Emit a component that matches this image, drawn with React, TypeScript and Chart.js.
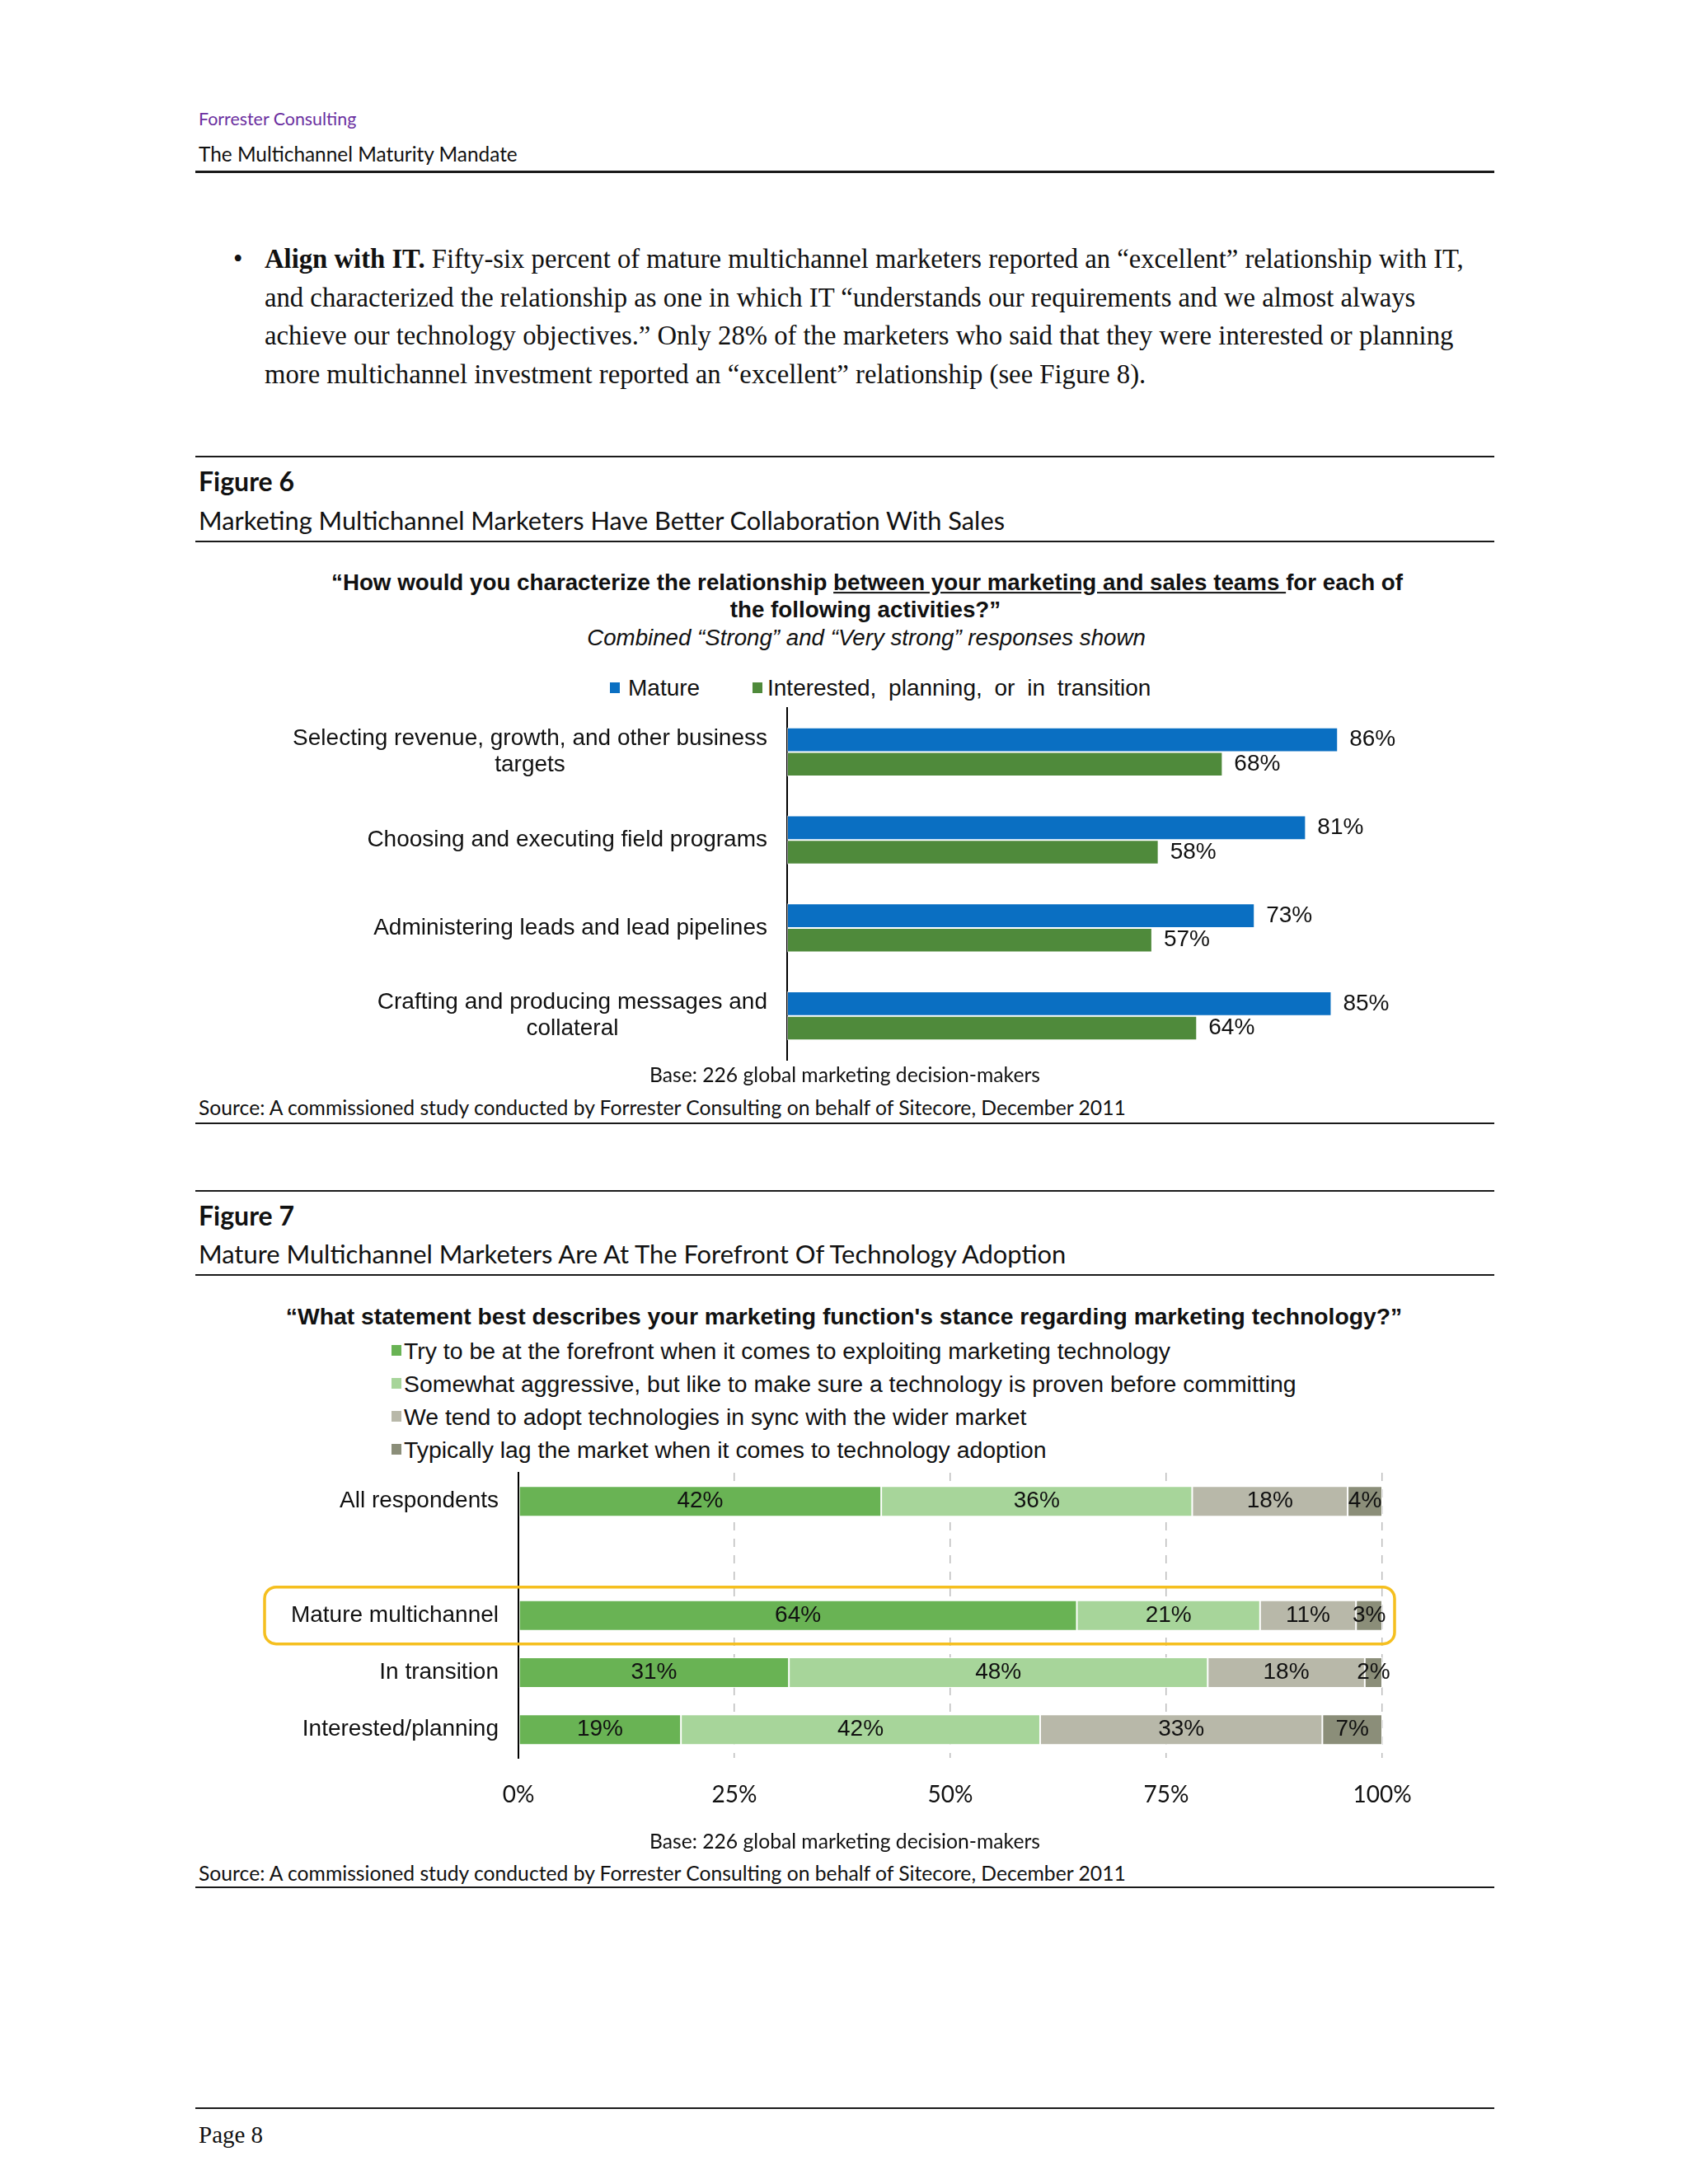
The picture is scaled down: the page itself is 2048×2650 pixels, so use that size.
import React, { useEffect, useRef } from "react";
import { Chart, registerables } from "chart.js";

Chart.register(...registerables);

const ARIAL = '"Liberation Sans", Arial, sans-serif';
const MYRIAD = 'Lato, "Open Sans", sans-serif';
const SERIF = '"Liberation Serif", "Times New Roman", serif';

// ---------- Figure 6 data ----------
const fig6Categories: string[][] = [
  ["Selecting revenue, growth, and other business", "targets"],
  ["Choosing and executing field programs"],
  ["Administering leads and lead pipelines"],
  ["Crafting and producing messages and", "collateral"],
];
const fig6SeriesNames = ["Mature", "Interested, planning, or in transition"];
const fig6Mature = [86, 81, 73, 85];
const fig6Interested = [68, 58, 57, 64];
const fig6Colors = ["#0a6fc2", "#4f8a3b"];

// ---------- Figure 7 data ----------
const fig7Categories: string[] = [
  "All respondents",
  "",
  "Mature multichannel",
  "In transition",
  "Interested/planning",
];
const fig7SeriesNames = [
  "Try to be at the forefront when it comes to exploiting marketing technology",
  "Somewhat aggressive, but like to make sure a technology is proven before committing",
  "We tend to adopt technologies in sync with the wider market",
  "Typically lag the market when it comes to technology adoption",
];
const fig7Forefront: (number | null)[] = [42, null, 64, 31, 19];
const fig7Aggressive: (number | null)[] = [36, null, 21, 48, 42];
const fig7InSync: (number | null)[] = [18, null, 11, 18, 33];
const fig7Lag: (number | null)[] = [4, null, 3, 2, 7];
const fig7Colors = ["#69b354", "#a7d59a", "#b8b8a9", "#8b8e79"];
const fig7TickValues = [0, 25, 50, 75, 100];

// ---------- plugins ----------
const categoryLabelPlugin = {
  id: "catLabels",
  afterDraw(chart: any, _args: any, opts: any) {
    const { ctx } = chart;
    const yScale = chart.scales.y;
    const labels: string[][] = opts.labels || [];
    ctx.save();
    ctx.font = `${opts.size}px ${ARIAL}`;
    ctx.fillStyle = "#111";
    ctx.textBaseline = "middle";
    ctx.textAlign = "center";
    labels.forEach((lines, i) => {
      if (!lines.length) return;
      const yc = yScale.getPixelForValue(i);
      const maxW = Math.max(...lines.map((l) => ctx.measureText(l).width));
      const cx = chart.chartArea.left - opts.gap - maxW / 2;
      const n = lines.length;
      lines.forEach((line, j) => {
        ctx.fillText(line, cx, yc + (j - (n - 1) / 2) * opts.lineHeight);
      });
    });
    ctx.restore();
  },
};

const endLabelPlugin = {
  id: "endLabels",
  afterDatasetsDraw(chart: any, _args: any, opts: any) {
    const { ctx } = chart;
    ctx.save();
    ctx.font = `${opts.size}px ${ARIAL}`;
    ctx.fillStyle = "#111";
    ctx.textBaseline = "middle";
    chart.data.datasets.forEach((ds: any, di: number) => {
      const meta = chart.getDatasetMeta(di);
      meta.data.forEach((el: any, i: number) => {
        const v = ds.data[i];
        if (v == null) return;
        const p = el.getProps(["x", "y", "base"], true);
        if (opts.mode === "end") {
          ctx.textAlign = "left";
          ctx.fillText(`${v}%`, p.x + opts.offset, p.y);
        } else {
          const raw = opts.raw[di][i];
          if (raw == null) return;
          ctx.textAlign = "center";
          ctx.fillText(`${raw}%`, (p.x + p.base) / 2, p.y);
        }
      });
    });
    ctx.restore();
  },
};

const highlightPlugin = {
  id: "highlight",
  afterDatasetsDraw(chart: any, _args: any, opts: any) {
    const { ctx } = chart;
    const y = chart.scales.y.getPixelForValue(opts.index);
    const x1 = opts.left;
    const x2 = chart.chartArea.right + opts.rightExtra;
    ctx.save();
    ctx.strokeStyle = opts.color;
    ctx.lineWidth = opts.lineWidth;
    ctx.beginPath();
    ctx.roundRect(x1, y - opts.half, x2 - x1, opts.half * 2, opts.radius);
    ctx.stroke();
    ctx.restore();
  },
};

// ---------- helpers ----------
type TP = {
  x: number;
  y: number;
  size: number;
  family: string;
  weight?: number | string;
  italic?: boolean;
  color?: string;
  center?: boolean;
  spacing?: number;
  wordSpacing?: number;
  children: React.ReactNode;
};
function T({ x, y, size, family, weight, italic, color, center, spacing, wordSpacing, children }: TP) {
  return (
    <div
      style={{
        position: "absolute",
        left: x,
        top: y,
        transform: center ? "translate(-50%, -50%)" : "translate(0, -50%)",
        fontSize: size,
        fontFamily: family,
        fontWeight: weight ?? 400,
        fontStyle: italic ? "italic" : "normal",
        color: color ?? "#111",
        lineHeight: 1,
        whiteSpace: "pre",
        letterSpacing: spacing ?? 0,
        wordSpacing: wordSpacing ?? 0,
      }}
    >
      {children}
    </div>
  );
}

function Rule({ y, h = 2 }: { y: number; h?: number }) {
  return (
    <div
      style={{
        position: "absolute",
        left: 237,
        top: y - h / 2,
        width: 1576,
        height: h,
        background: "#1a1a1a",
      }}
    />
  );
}

function Swatch({ x, y, color }: { x: number; y: number; color: string }) {
  return (
    <div
      style={{
        position: "absolute",
        left: x,
        top: y - 7,
        width: 12,
        height: 13,
        background: color,
      }}
    />
  );
}

export default function App() {
  const c6 = useRef<HTMLCanvasElement>(null);
  const c7 = useRef<HTMLCanvasElement>(null);

  useEffect(() => {
    document.body.style.margin = "0";

    const ch6 = new Chart(c6.current!, {
      type: "bar",
      data: {
        labels: fig6Categories.map((l) => l.join(" ")),
        datasets: [
          {
            label: fig6SeriesNames[0],
            data: fig6Mature,
            backgroundColor: fig6Colors[0],
            borderColor: "rgba(255,255,255,0.6)",
            borderWidth: 1,
            borderSkipped: false,
            categoryPercentage: 0.553,
            barPercentage: 1,
          },
          {
            label: fig6SeriesNames[1],
            data: fig6Interested,
            backgroundColor: fig6Colors[1],
            borderColor: "rgba(255,255,255,0.6)",
            borderWidth: 1,
            borderSkipped: false,
            categoryPercentage: 0.553,
            barPercentage: 1,
          },
        ],
      },
      options: {
        indexAxis: "y",
        responsive: false,
        animation: false,
        devicePixelRatio: 1,
        layout: { padding: { left: 655, right: 48, top: 9, bottom: 14 } },
        scales: {
          x: { display: false, min: 0, max: 100 },
          y: {
            display: true,
            ticks: { display: false },
            grid: { display: false, drawTicks: false },
            border: { display: true, color: "#000", width: 2 },
          },
        },
        plugins: {
          legend: { display: false },
          tooltip: { enabled: false },
          catLabels: { labels: fig6Categories, size: 28, gap: 24, lineHeight: 32 },
          endLabels: { mode: "end", size: 28, offset: 14 },
        } as any,
      },
      plugins: [categoryLabelPlugin, endLabelPlugin],
    });

    const fig7Series = [fig7Forefront, fig7Aggressive, fig7InSync, fig7Lag];
    const rowTotals = fig7Categories.map((_, i) =>
      fig7Series.reduce((s, arr) => s + (arr[i] ?? 0), 0)
    );
    const ch7 = new Chart(c7.current!, {
      type: "bar",
      data: {
        labels: fig7Categories,
        datasets: fig7Series.map((arr, si) => ({
          label: fig7SeriesNames[si],
          data: arr.map((v, i) => (v == null ? null : (v / rowTotals[i]) * 100)),
          backgroundColor: fig7Colors[si],
          borderColor: "rgba(255,255,255,0.85)",
          borderWidth: 1,
          borderSkipped: false,
          categoryPercentage: 0.534,
          barPercentage: 1,
        })),
      },
      options: {
        indexAxis: "y",
        responsive: false,
        animation: false,
        devicePixelRatio: 1,
        layout: { padding: { left: 329, right: 103, top: 7, bottom: 2 } },
        scales: {
          x: {
            stacked: true,
            min: 0,
            max: 100,
            afterBuildTicks: (axis: any) => {
              axis.ticks = fig7TickValues.map((v) => ({ value: v }));
            },
            ticks: {
              padding: 28,
              color: "#111",
              font: { family: MYRIAD, size: 28 },
              callback: (v: any) => `${v}%`,
            },
            grid: {
              display: true,
              drawTicks: false,
              lineWidth: 1.5,
              color: (ctx: any) => (ctx.tick && ctx.tick.value === 0 ? "rgba(0,0,0,0)" : "#bdbdbd"),
            },
            border: { display: false, dash: [10, 10] },
          },
          y: {
            stacked: true,
            display: true,
            ticks: { display: false },
            grid: { display: false, drawTicks: false },
            border: { display: true, color: "#000", width: 2 },
          },
        },
        plugins: {
          legend: { display: false },
          tooltip: { enabled: false },
          catLabels: { labels: fig7Categories.map((c) => (c ? [c] : [])), size: 28, gap: 24, lineHeight: 32 },
          endLabels: { mode: "center", size: 28, raw: fig7Series },
          highlight: { index: 2, left: 21, rightExtra: 15, half: 34.5, radius: 14, lineWidth: 3.5, color: "#f5bf1f" },
        } as any,
      },
      plugins: [categoryLabelPlugin, endLabelPlugin, highlightPlugin],
    });

    return () => {
      ch6.destroy();
      ch7.destroy();
    };
  }, []);

  const paraSize = 32.7;
  const legend7Y = [1639, 1679, 1719, 1759];
  const myriadSmall = 24.7;

  return (
    <div
      style={{
        position: "absolute",
        left: 0,
        top: 0,
        width: 2048,
        height: 2650,
        background: "#fff",
        overflow: "hidden",
      }}
    >
      {/* Header */}
      <T x={241} y={145} size={21.4} family={MYRIAD} color="#6b2fa0">Forrester Consulting</T>
      <T x={241} y={187} size={24.4} family={MYRIAD}>The Multichannel Maturity Mandate</T>
      <Rule y={208} h={3} />

      {/* Paragraph */}
      <T x={283} y={314} size={paraSize} family={SERIF}>•</T>
      <T x={321} y={314} size={paraSize} family={SERIF}>
        <b>Align with IT.</b> Fifty-six percent of mature multichannel marketers reported an “excellent” relationship with IT,
      </T>
      <T x={321} y={360.7} size={paraSize} family={SERIF}>
        and characterized the relationship as one in which IT “understands our requirements and we almost always
      </T>
      <T x={321} y={407.4} size={paraSize} family={SERIF}>
        achieve our technology objectives.” Only 28% of the marketers who said that they were interested or planning
      </T>
      <T x={321} y={454} size={paraSize} family={SERIF}>
        more multichannel investment reported an “excellent” relationship (see Figure 8).
      </T>

      {/* Figure 6 */}
      <Rule y={554} />
      <T x={241} y={584} size={32} family={MYRIAD} weight={700}>Figure 6</T>
      <T x={241} y={632} size={30.8} family={MYRIAD}>Marketing Multichannel Marketers Have Better Collaboration With Sales</T>
      <Rule y={657} />
      <T x={1052} y={707} size={27.75} family={ARIAL} weight={700} center>
        “How would you characterize the relationship{" "}
        <span style={{ textDecoration: "underline" }}>between your marketing and sales teams </span>for each of
      </T>
      <T x={1050} y={740} size={27.75} family={ARIAL} weight={700} center>the following activities?”</T>
      <T x={1051} y={774} size={27.7} family={ARIAL} italic center>Combined “Strong” and “Very strong” responses shown</T>
      <Swatch x={740} y={835} color={fig6Colors[0]} />
      <T x={762} y={835} size={28} family={ARIAL}>{fig6SeriesNames[0]}</T>
      <Swatch x={913} y={835} color={fig6Colors[1]} />
      <T x={931} y={835} size={28} family={ARIAL} wordSpacing={7}>{fig6SeriesNames[1]}</T>
      <canvas
        ref={c6}
        width={1480}
        height={450}
        style={{ position: "absolute", left: 300, top: 850, width: 1480, height: 450 }}
      />
      <T x={1025} y={1304} size={myriadSmall} family={MYRIAD} center>Base: 226 global marketing decision-makers</T>
      <T x={241} y={1344} size={myriadSmall} family={MYRIAD}>
        Source: A commissioned study conducted by Forrester Consulting on behalf of Sitecore, December 2011
      </T>
      <Rule y={1363} />

      {/* Figure 7 */}
      <Rule y={1445} />
      <T x={241} y={1475} size={32} family={MYRIAD} weight={700}>Figure 7</T>
      <T x={241} y={1522} size={30.9} family={MYRIAD}>Mature Multichannel Marketers Are At The Forefront Of Technology Adoption</T>
      <Rule y={1547} />
      <T x={1024} y={1597} size={28.3} family={ARIAL} weight={700} center>
        “What statement best describes your marketing function's stance regarding marketing technology?”
      </T>
      {fig7SeriesNames.map((name, i) => (
        <React.Fragment key={name}>
          <Swatch x={475} y={legend7Y[i]} color={fig7Colors[i]} />
          <T x={490} y={legend7Y[i]} size={28.4} family={ARIAL}>{name}</T>
        </React.Fragment>
      ))}
      <canvas
        ref={c7}
        width={1480}
        height={445}
        style={{ position: "absolute", left: 300, top: 1780, width: 1480, height: 445 }}
      />
      <T x={1025} y={2234} size={myriadSmall} family={MYRIAD} center>Base: 226 global marketing decision-makers</T>
      <T x={241} y={2273} size={myriadSmall} family={MYRIAD}>
        Source: A commissioned study conducted by Forrester Consulting on behalf of Sitecore, December 2011
      </T>
      <Rule y={2290} />

      {/* Footer */}
      <Rule y={2558} />
      <T x={241} y={2590} size={29} family={SERIF}>Page 8</T>
    </div>
  );
}
